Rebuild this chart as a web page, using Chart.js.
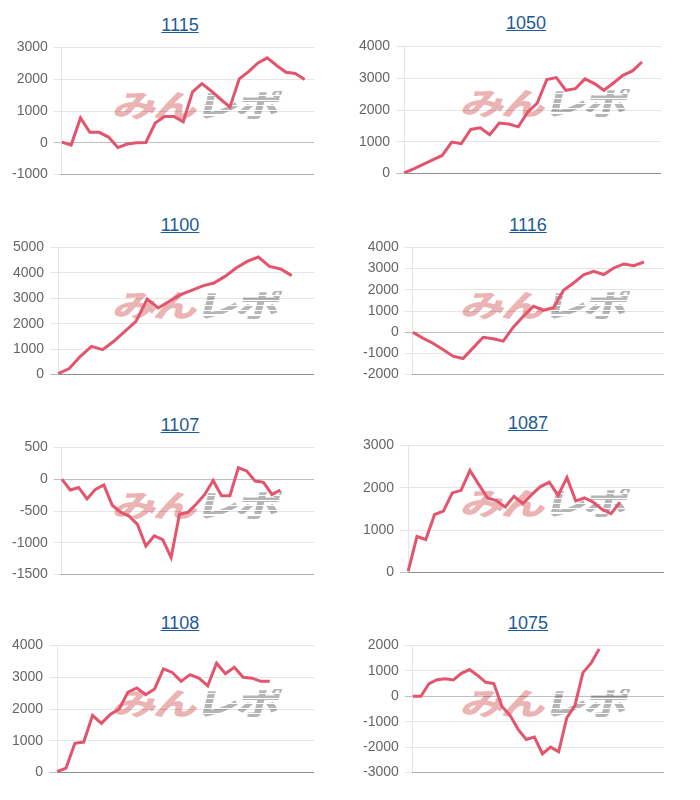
<!DOCTYPE html>
<html>
<head>
<meta charset="utf-8">
<script src="https://cdn.jsdelivr.net/npm/chart.js@4.4.1/dist/chart.umd.min.js"></script>
<style>
  body { margin:0; background:#fff; width:700px; height:800px; position:relative; overflow:hidden;
         font-family:"Liberation Sans", Arial, sans-serif; }
  .title { position:absolute; width:200px; margin-left:-100px; text-align:center; font-size:18px; line-height:21px; }
  .title a { color:#1e5a96; text-decoration:underline; }
  .wm { position:absolute; width:180px; height:36px; z-index:0; white-space:nowrap; overflow:visible;
        font-family:"Noto Sans CJK JP", sans-serif; font-weight:900; font-size:44px; line-height:36px;
        letter-spacing:-3px; transform: scaleY(0.7) skewX(-10deg); transform-origin:left center; }
  .wm .p { color:#ebb3b3; }
  .wm .g { background: repeating-linear-gradient(to bottom, #b5b5b5 0 5px, rgba(255,255,255,0) 5px 7px);
           -webkit-background-clip:text; background-clip:text; color:transparent; }
  canvas { position:absolute; z-index:1; }
</style>
</head>
<body>
<script>
// ---- data ----
const titles = ["1115", "1050", "1100", "1116", "1107", "1087", "1108", "1075"];

const v1115 = [20, -70, 780, 330, 330, 180, -150, -40, 0, 10, 620, 830, 830, 660, 1600, 1860, 1630, 1370, 1130, 2010, 2240, 2510, 2670, 2430, 2220, 2180, 1990];
const v1050 = [20, 150, 290, 430, 570, 990, 940, 1390, 1440, 1220, 1590, 1560, 1470, 1940, 2220, 2960, 3020, 2620, 2670, 2980, 2830, 2620, 2850, 3090, 3230, 3510];
const v1100 = [40, 240, 720, 1110, 980, 1310, 1700, 2090, 2970, 2620, 2880, 3140, 3310, 3490, 3600, 3860, 4190, 4450, 4620, 4250, 4150, 3890];
const v1116 = [0, -280, -520, -820, -1130, -1240, -740, -240, -310, -420, 240, 750, 1220, 1040, 1150, 1980, 2320, 2710, 2870, 2720, 3030, 3220, 3140, 3310];
const v1107 = [0, -170, -130, -310, -160, -90, -410, -520, -580, -710, -1050, -890, -950, -1230, -550, -520, -390, -240, -20, -260, -260, 180, 130, -30, -50, -240, -170];
const v1087 = [30, 850, 780, 1370, 1450, 1880, 1940, 2410, 2080, 1760, 1700, 1550, 1800, 1630, 1840, 2030, 2130, 1820, 2240, 1690, 1760, 1660, 1490, 1390, 1660];
const v1108 = [30, 140, 920, 960, 1800, 1550, 1830, 2000, 2530, 2660, 2450, 2630, 3260, 3150, 2870, 3080, 2970, 2730, 3440, 3110, 3310, 3000, 2970, 2870, 2870];
const v1075 = [0, 0, 500, 650, 690, 640, 900, 1050, 820, 550, 500, -400, -750, -1300, -1700, -1600, -2260, -2000, -2180, -850, -370, 930, 1300, 1860];

// number of x slots (hidden category labels) per chart
const slotCounts = [28, 28, 24, 26, 31, 30, 30, 32];

// y tick ranges
const yMin  = [-1000, 0, 0, -2000, -1500, 0, 0, -3000];
const yMax  = [3000, 4000, 5000, 4000, 500, 3000, 4000, 2000];
const yStep = [1000, 1000, 1000, 1000, 500, 1000, 1000, 1000];

const series = [v1115, v1050, v1100, v1116, v1107, v1087, v1108, v1075];

// ---- layout (target plot-area rectangles, page px) ----
const plotLeft   = [62, 404, 57.7, 413.3, 62, 408.3, 56.7, 413.3];
const plotRight  = [314, 660.7, 314, 664.3, 314, 664.3, 313.3, 664.3];
const plotTop    = [47.7, 46, 247.7, 247.7, 447.7, 445.7, 645.7, 645.7];
const plotBottom = [175, 173.3, 375, 375, 575, 573.3, 773.3, 773.3];
const titleCx    = [180, 526, 180, 528, 180, 528, 180, 528];
const titleCy    = [25, 23.5, 225, 225, 425, 423.5, 623.5, 623.5];

const LINE = '#e3546d';

function makeConfig(i) {
  const labels = Array.from({length: slotCounts[i]}, (_, k) => String(k + 1));
  return {
    type: 'line',
    data: {
      labels: labels,
      datasets: [{
        data: series[i],
        borderColor: LINE,
        backgroundColor: LINE,
        borderWidth: 3,
        pointRadius: 0,
        tension: 0,
        fill: false
      }]
    },
    options: {
      responsive: false,
      maintainAspectRatio: false,
      animation: false,
      layout: { padding: 0 },
      plugins: { legend: { display: false }, tooltip: { enabled: false }, title: { display: false } },
      scales: {
        x: {
          ticks: { display: false },
          grid: { display: false, drawTicks: false },
          border: { display: true, color: 'rgba(0,0,0,0.25)' }
        },
        y: {
          min: yMin[i], max: yMax[i],
          ticks: { stepSize: yStep[i], color: '#666', padding: 6,
                   callback: v => String(v),
                   font: { family: '"Liberation Sans", Arial, sans-serif', size: 14 } },
          grid: {
            color: ctx => (ctx.tick && ctx.tick.value === 0) ? 'rgba(0,0,0,0.25)' : 'rgba(0,0,0,0.1)',
            tickLength: 8
          },
          border: { color: 'rgba(0,0,0,0.1)' }
        }
      }
    }
  };
}

for (let i = 0; i < 8; i++) {
  // title
  const t = document.createElement('div');
  t.className = 'title';
  t.style.left = titleCx[i] + 'px';
  t.style.top = (titleCy[i] - 10.5) + 'px';
  const a = document.createElement('a');
  a.href = '#';
  a.textContent = titles[i];
  t.appendChild(a);
  document.body.appendChild(t);

  // watermark
  const right = i % 2 === 1;
  const w = document.createElement('div');
  w.className = 'wm';
  w.style.left = (right ? 463 : 115) + 'px';
  w.style.top = (plotTop[i] + 38) + 'px';
  w.innerHTML = '<span class="p">みん</span><span class="g">レポ</span>';
  document.body.appendChild(w);

  // measure pass
  const W0 = 300, H0 = 150;
  const c = document.createElement('canvas');
  c.width = W0; c.height = H0;
  c.style.width = W0 + 'px'; c.style.height = H0 + 'px';
  c.style.left = '0px'; c.style.top = '0px';
  document.body.appendChild(c);
  let ch = new Chart(c, makeConfig(i));
  const a0 = ch.chartArea;
  const padL = a0.left, padR = W0 - a0.right, padT = a0.top, padB = H0 - a0.bottom;
  ch.destroy();

  // final pass: size canvas so plot area lands on target rectangle
  const W = Math.round(plotRight[i] - plotLeft[i] + padL + padR);
  const H = Math.round(plotBottom[i] - plotTop[i] + padT + padB);
  c.width = W; c.height = H;
  c.style.width = W + 'px'; c.style.height = H + 'px';
  c.style.left = (plotLeft[i] - padL) + 'px';
  c.style.top = (plotTop[i] - padT) + 'px';
  new Chart(c, makeConfig(i));
}
</script>
</body>
</html>
